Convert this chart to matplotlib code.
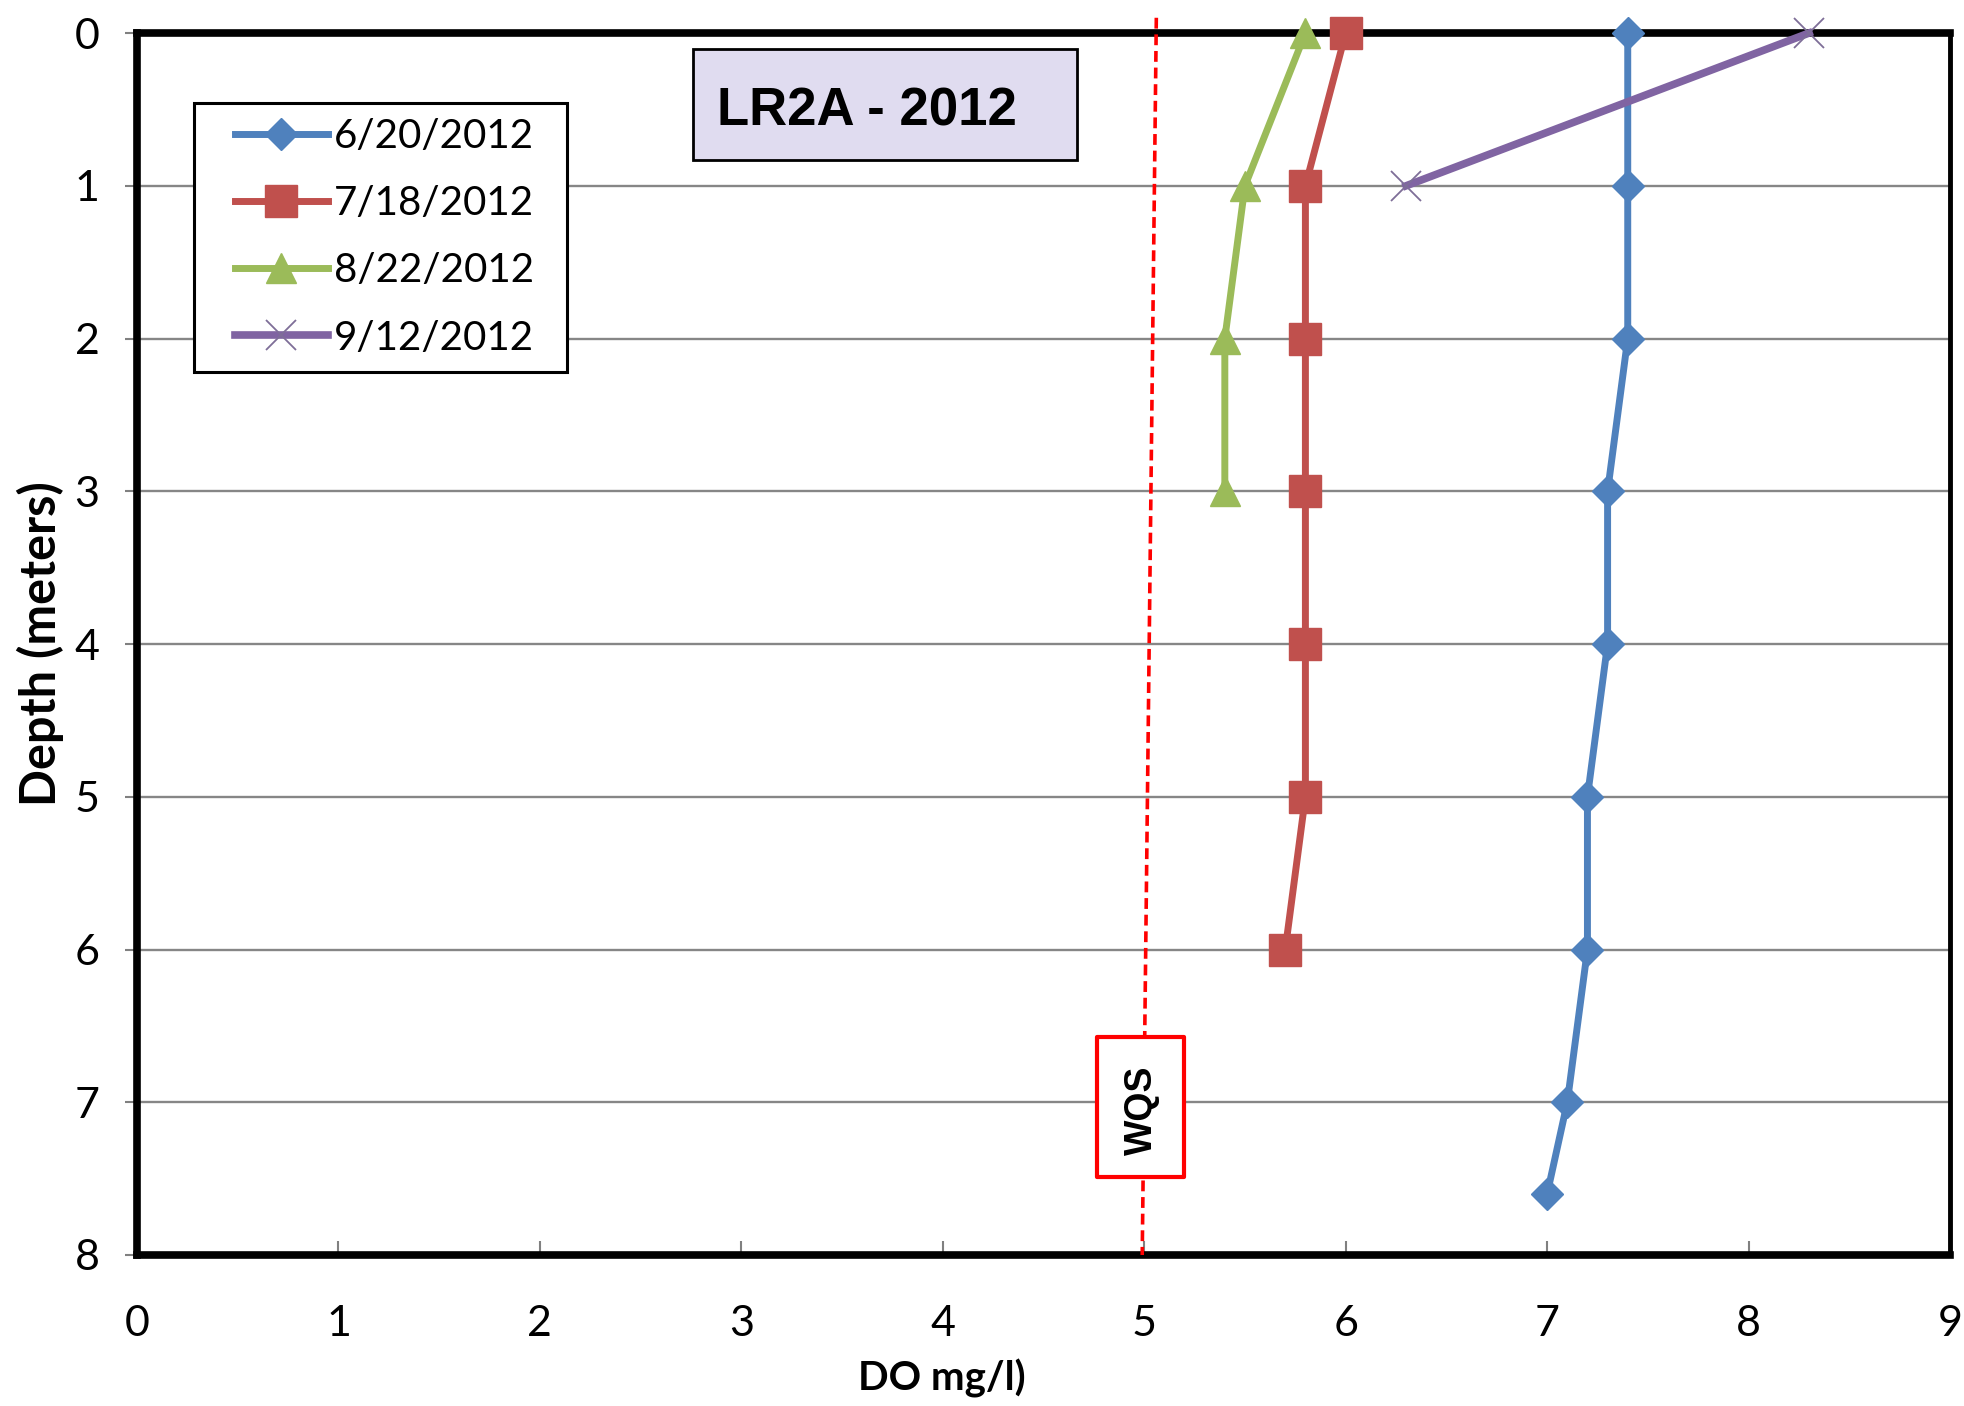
#%% Import packages
import matplotlib.pyplot as plt
from matplotlib.patches import Rectangle

#%% Profile data (DO in mg/l against depth in meters)
dates = ['6/20/2012', '7/18/2012', '8/22/2012', '9/12/2012']

depth_0620 = [0, 1, 2, 3, 4, 5, 6, 7, 7.6]
do_0620 = [7.4, 7.4, 7.4, 7.3, 7.3, 7.2, 7.2, 7.1, 7.0]

depth_0718 = [0, 1, 2, 3, 4, 5, 6]
do_0718 = [6.0, 5.8, 5.8, 5.8, 5.8, 5.8, 5.7]

depth_0822 = [0, 1, 2, 3]
do_0822 = [5.8, 5.5, 5.4, 5.4]

depth_0912 = [0, 1]
do_0912 = [8.3, 6.3]

# water quality standard line (hand drawn, leans a little)
wqs_do = [5.06, 4.99]
wqs_depth = [-0.1, 8.0]

x_ticks = list(range(10))
y_ticks = list(range(9))

#%% Fonts
plt.rcParams['font.family'] = ['Lato', 'DejaVu Sans']
arial = ['Liberation Sans', 'DejaVu Sans']

#%% Make Plot
fig = plt.figure(figsize=(19.65, 14.06), dpi=100)
ax = fig.add_axes([0.0697, 0.1074, 0.9227, 0.8691])

ax.plot(do_0620, depth_0620, color='#4F81BD', lw=5, marker='D', ms=16,
        label=dates[0], clip_on=False, zorder=4)
ax.plot(do_0718, depth_0718, color='#C0504D', lw=5, marker='s', ms=23,
        label=dates[1], clip_on=False, zorder=4)
ax.plot(do_0822, depth_0822, color='#9BBB59', lw=5, marker='^', ms=22,
        label=dates[2], clip_on=False, zorder=4)
ax.plot(do_0912, depth_0912, color='#8064A2', lw=5.5, marker='x', ms=22,
        mec='#7E6E98', mew=1.3, label=dates[3], clip_on=False, zorder=5)

# WQS reference line and its tag
ax.plot(wqs_do, wqs_depth, color='red', lw=2.6, dashes=(3, 1.6),
        clip_on=False, zorder=3)
ax.add_patch(Rectangle((4.765, 6.575), 0.43, 0.915, facecolor='white',
                       edgecolor='red', lw=3, joinstyle='round', zorder=6))
ax.text(4.99, 7.05, 'WQS', rotation=90, ha='center', va='center',
        fontsize=27, fontweight='bold', family=arial, zorder=7)

# axes, ticks, grid
ax.set_xlim(0, 9)
ax.set_ylim(8, 0)
ax.set_xticks(x_ticks)
ax.set_yticks(y_ticks)
ax.tick_params(axis='x', direction='in', length=10, width=1.5,
               color='#808080', pad=36, labelsize=31)
ax.tick_params(axis='y', direction='out', length=9, width=1.5,
               color='#808080', pad=18, labelsize=31)
ax.yaxis.grid(True, color='#868686', lw=1.7)
ax.set_axisbelow(True)
for side, spine in ax.spines.items():
    spine.set_color('black')
    spine.set_linewidth(3.5 if side == 'right' else 5.5)

ax.set_xlabel('DO mg/l)', fontsize=29, fontweight='bold')
ax.xaxis.label.set_va('center')
ax.xaxis.set_label_coords(0.444, -0.1007)
ax.set_ylabel('Depth (meters)', fontsize=35, fontweight='bold')
ax.yaxis.label.set_va('center')
ax.yaxis.set_label_coords(-0.0535, 0.5)

# title box
ax.add_patch(Rectangle((0.3067, 0.896), 0.2118, 0.0909, transform=ax.transAxes,
                       facecolor='#E0DCF0', edgecolor='black', lw=2,
                       zorder=6, clip_on=False))
ax.text(0.3199, 0.9355, 'LR2A - 2012', transform=ax.transAxes, ha='left',
        va='center', fontsize=38, fontweight='bold', family=arial, zorder=7)

# legend with its own frame
ax.add_patch(Rectangle((0.0314, 0.7226), 0.2057, 0.2201, transform=ax.transAxes,
                       facecolor='white', edgecolor='black', lw=2.2, zorder=6))
leg = ax.legend(loc='upper left', bbox_to_anchor=(0.0541, 0.9305),
                frameon=False, fontsize=29, borderpad=0, borderaxespad=0,
                handlelength=2.3, handletextpad=0.15, labelspacing=0.75)
leg.set_zorder(7)

plt.savefig('out.png', dpi=100)
